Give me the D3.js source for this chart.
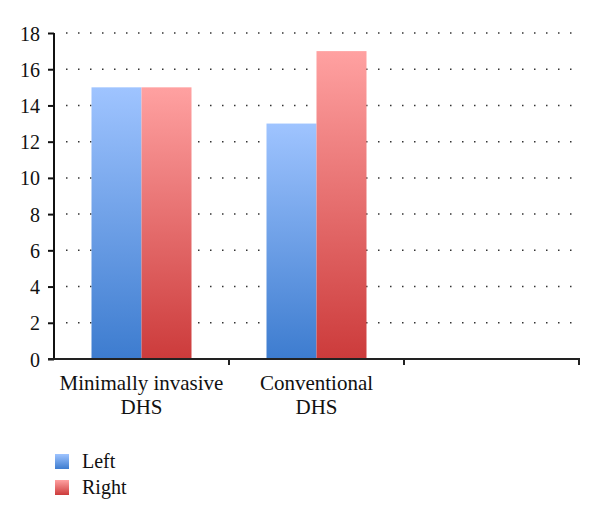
<!DOCTYPE html>
<html><head><meta charset="utf-8">
<script src="https://cdn.jsdelivr.net/npm/d3@7"></script>
<style>body{margin:0;background:#fff}svg{display:block}text{font-family:"Liberation Serif","Times New Roman",serif;fill:#111}</style>
</head><body>
<svg id="c" width="600" height="523"></svg>
<script>
const categories = [["Minimally invasive","DHS"],["Conventional","DHS"],[""]];
const seriesNames = ["Left","Right"];
const leftValues = [15, 13];
const rightValues = [15, 17];
const yTicks = [0,2,4,6,8,10,12,14,16,18];

const svg = d3.select("#c");
const x0 = 54, x1 = 579, yTop = 33, yBot = 359;
const x = d3.scaleBand().domain(d3.range(categories.length)).range([x0, x1]);
const y = d3.scaleLinear().domain([0,18]).range([yBot, yTop]);
const inner = d3.scaleBand().domain(seriesNames).range([0, 100]);

const defs = svg.append("defs");
const grads = {Left:["#9fc4ff","#3d7ccf"], Right:["#ffa1a1","#cc3b3b"]};
Object.entries(grads).forEach(([k,[a,b]])=>{
  const g = defs.append("linearGradient").attr("id","g"+k).attr("x1",0).attr("y1",0).attr("x2",0).attr("y2",1);
  g.append("stop").attr("offset","0%").attr("stop-color",a);
  g.append("stop").attr("offset","100%").attr("stop-color",b);
});

// gridlines
svg.append("g").selectAll("line").data(yTicks.filter(d=>d>0)).join("line")
  .attr("x1", x0+12).attr("x2", x1).attr("y1", d=>y(d)).attr("y2", d=>y(d))
  .attr("stroke","#333").attr("stroke-width",1.5).attr("stroke-dasharray","1.5,10.5");

// bars
const data = [];
leftValues.forEach((v,i)=>data.push({c:i,s:"Left",v}));
rightValues.forEach((v,i)=>data.push({c:i,s:"Right",v}));
svg.append("g").selectAll("rect").data(data).join("rect")
  .attr("x", d=>x(d.c) + (x.bandwidth()-100)/2 + inner(d.s))
  .attr("width", inner.bandwidth())
  .attr("y", d=>y(d.v)).attr("height", d=>yBot - y(d.v))
  .attr("fill", d=>`url(#g${d.s})`);

// y axis
const ya = svg.append("g").attr("transform",`translate(${x0},0)`)
  .call(d3.axisLeft(y).tickValues(yTicks).tickSize(6).tickPadding(8).tickFormat(d3.format("d")));
ya.select(".domain").attr("stroke","#111").attr("stroke-width",2).attr("d",`M0,${yTop}V${yBot}`);
ya.selectAll(".tick line").attr("stroke","#111").attr("stroke-width",2);
ya.selectAll(".tick text").attr("font-size",20).attr("font-family","Liberation Serif").attr("fill","#111").attr("dy","0.35em");

// x axis
const xa = svg.append("g").attr("transform",`translate(0,${yBot})`);
xa.append("line").attr("x1",x0-6).attr("x2",x1+1).attr("y1",0).attr("y2",0).attr("stroke","#222").attr("stroke-width",2);
xa.selectAll("line.t").data(d3.range(categories.length)).join("line").attr("class","t")
  .attr("x1",d=>x(d)+x.bandwidth()).attr("x2",d=>x(d)+x.bandwidth()).attr("y1",0).attr("y2",6)
  .attr("stroke","#222").attr("stroke-width",2);
xa.selectAll("text.cat").data(categories).join("text").attr("class","cat")
  .attr("text-anchor","middle").attr("font-size",21)
  .attr("transform",(d,i)=>`translate(${x(i)+x.bandwidth()/2},31)`)
  .selectAll("tspan").data(d=>d).join("tspan").attr("x",0).attr("dy",(d,i)=>i?24:0).text(d=>d);

// legend
const lg = svg.append("g").attr("transform","translate(55,454)");
seriesNames.forEach((s,i)=>{
  const g = lg.append("g").attr("transform",`translate(0,${i*26})`);
  g.append("rect").attr("width",14).attr("height",15).attr("fill",`url(#g${s})`);
  g.append("text").attr("x",27).attr("y",14).attr("font-size",20).text(s);
});
</script>
</body></html>
